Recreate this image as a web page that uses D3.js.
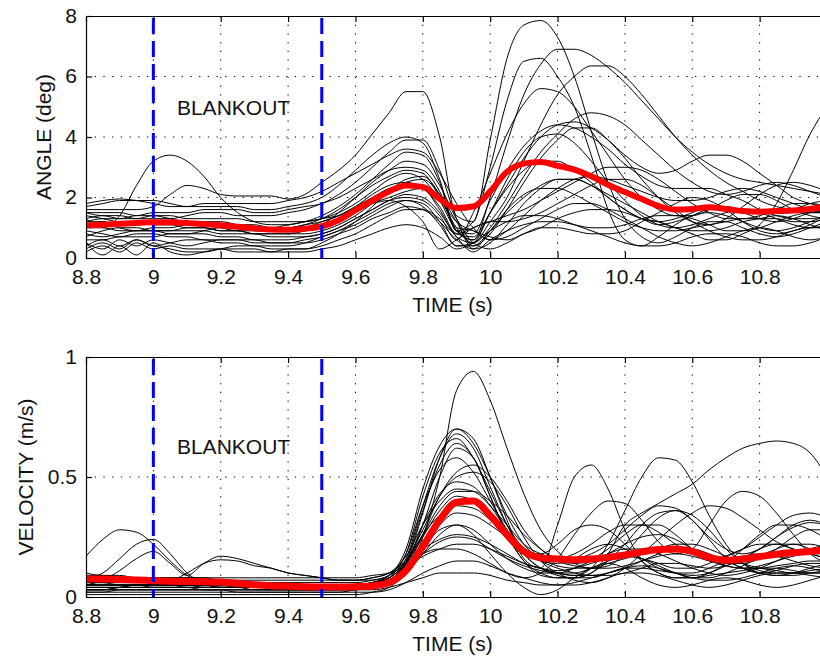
<!DOCTYPE html>
<html>
<head>
<meta charset="utf-8">
<script src="https://cdn.jsdelivr.net/npm/d3@7"></script>
<style>
  body { margin: 0; background: #fff; }
  text { font-family: "Liberation Sans", Arial, sans-serif; }
</style>
</head>
<body>
<svg id="chart" width="820" height="664"></svg>
<script>
// sample times (s)
const TIME = [8.80,8.85,8.90,8.95,9.00, 9.05,9.10,9.15,9.20,9.25, 9.30,9.35,9.40,9.45,9.50,
  9.55,9.60,9.65,9.70,9.75, 9.80,9.85,9.90,9.95,10.00, 10.05,10.10,10.15,10.20,10.25,
  10.30,10.35,10.40,10.45,10.50, 10.55,10.60,10.65,10.70,10.75, 10.80,10.85,10.90,10.95,11.00];
const X_TICKS = [8.8, 9, 9.2, 9.4, 9.6, 9.8, 10, 10.2, 10.4, 10.6, 10.8];
const ANGLE_TICKS = [0, 2, 4, 6, 8];
const VEL_TICKS = [0, 0.5, 1];
const BLANKOUT = [9.0, 9.5];

// mean angle (deg)
const angleMean = [1.08,1.1,1.13,1.16,1.18, 1.18,1.16,1.12,1.08,1.03, 0.98,0.94,0.93,0.97,1.05,
  1.25,1.58,1.9,2.2,2.4, 2.35,1.95,1.65,1.7,2.2, 2.85,3.12,3.17,3.05,2.92,
  2.7,2.42,2.18,1.95,1.72, 1.6,1.62,1.68,1.62,1.55, 1.53,1.55,1.57,1.62,1.7];

// single trials, angle (deg)
const angleTrials = [
  [1.3,1.0,1.4,2.4,3.2, 3.4,3.2,2.7,2.0,1.5, 1.2,1.1,1.1,1.2,1.3, 1.5,1.8,2.2,2.6,2.8, 2.6,1.9,0.9,0.6,1.5, 2.6,3.5,4.0,4.1,3.8, 3.2,2.5,1.9,1.4,1.1, 1.0,1.1,1.3,1.5,1.6, 1.5,1.3,1.1,1.0,1.1],
  [1.6,1.6,1.6,1.6,1.7, 2.1,2.4,2.3,2.1,2.05, 2.05,2.05,1.95,2.1,2.5, 2.9,3.4,4.1,4.8,5.5, 5.5,4.0,1.4,1.2,3.9, 6.6,7.7,7.85,7.3,6.0, 4.2,2.5,1.3,0.7,0.5, 0.7,1.0,1.2,1.2,1.0, 0.8,0.7,0.8,1.0,1.2],
  [1.5,1.4,1.4,1.3,1.3, 1.3,1.4,1.5,1.5,1.4, 1.4,1.4,1.5,1.6,1.8, 2.0,2.3,2.6,2.9,3.0, 2.9,2.2,0.9,0.6,2.0, 3.8,5.4,6.4,6.9,6.9, 6.7,6.3,5.8,5.2,4.6, 4.0,3.5,3.1,2.8,2.6, 2.5,2.4,2.3,2.2,2.1],
  [0.8,0.7,0.8,0.9,0.9, 0.8,0.8,0.9,1.0,1.0, 0.9,0.9,0.9,1.0,1.2, 1.4,1.7,2.0,2.3,2.4, 2.3,1.6,0.7,0.5,1.2, 2.0,3.2,4.4,5.4,6.0, 6.35,6.35,6.0,5.4,4.7, 4.0,3.4,2.9,2.5,2.2, 1.9,1.7,1.6,1.5,1.5],
  [1.2,1.2,1.1,1.1,1.2, 1.2,1.2,1.1,1.1,1.0, 1.0,1.0,1.1,1.2,1.4, 1.7,2.1,2.6,3.1,3.5, 3.4,2.5,0.9,1.2,3.0, 5.2,6.5,6.6,6.0,5.0, 3.4,1.6,0.6,0.4,0.7, 1.1,1.4,1.5,1.4,1.2, 1.0,0.9,1.0,1.2,1.4],
  [0.6,0.6,0.7,0.7,0.7, 0.8,0.8,0.8,0.7,0.7, 0.6,0.6,0.6,0.7,0.8, 1.0,1.3,1.6,1.9,2.0, 1.9,1.4,0.6,1.5,2.8, 4.1,5.1,5.6,5.5,5.0, 4.2,3.4,2.6,2.0,1.6, 1.4,1.4,1.6,1.9,2.1, 2.1,1.9,1.6,1.4,1.3],
  [0.3,0.5,0.3,0.6,0.4, 0.5,0.6,0.6,0.5,0.5, 0.4,0.4,0.4,0.5,0.7, 0.9,1.2,1.5,1.8,1.9, 1.7,1.1,0.4,0.5,1.5, 2.4,3.3,4.0,4.4,4.5, 4.3,3.9,3.4,3.0,2.8, 2.9,3.2,3.4,3.4,3.2, 2.8,2.4,2.0,1.8,1.7],
  [1.0,1.0,0.9,0.9,0.9, 0.9,1.0,1.0,0.9,0.9, 0.8,0.8,0.8,0.8,0.9, 1.1,1.4,1.8,2.2,2.5, 2.6,2.1,1.2,0.4,0.8, 1.6,2.5,3.3,3.9,4.3, 4.3,3.9,3.3,2.6,2.0, 1.5,1.2,1.1,1.3,1.7, 2.1,2.4,2.5,2.4,2.2],
  [0.5,0.3,0.6,0.4,0.6, 0.5,0.4,0.5,0.6,0.6, 0.6,0.5,0.5,0.5,0.6, 0.8,1.0,1.3,1.5,1.7, 1.6,1.2,0.6,0.3,0.5, 1.1,1.8,2.3,2.6,2.6, 2.4,2.1,1.8,1.5,1.2, 1.0,0.8,0.6,0.6,0.8, 1.1,1.8,2.9,4.1,5.0],
  [1.5,1.5,1.5,1.4,1.5, 1.5,1.5,1.6,1.6,1.6, 1.5,1.5,1.6,1.7,1.8, 2.1,2.5,3.0,3.5,3.9, 3.9,2.9,1.3,0.3,0.9, 1.6,2.1,2.3,2.3,2.1, 1.8,1.5,1.2,1.0,0.9, 0.9,1.0,1.1,1.2,1.3, 1.3,1.3,1.2,1.2,1.3],
  [1.7,1.8,1.9,1.9,1.9, 1.8,1.7,1.7,1.7,1.7, 1.6,1.6,1.7,1.8,2.0, 2.4,2.9,3.4,3.8,4.0, 3.8,2.6,0.9,0.8,1.9, 2.9,3.7,4.2,4.4,4.3, 4.0,3.6,3.1,2.7,2.4, 2.3,2.3,2.3,2.1,1.9, 1.6,1.4,1.3,1.3,1.4],
  [0.2,0.4,0.2,0.5,0.3, 0.4,0.3,0.3,0.3,0.2, 0.2,0.2,0.3,0.3,0.5, 0.8,1.2,1.7,2.2,2.6, 2.7,2.1,1.0,0.9,0.6, 0.7,1.0,1.3,1.6,1.8, 1.8,1.6,1.3,1.0,0.7, 0.5,0.4,0.5,0.7,0.9, 1.0,0.9,0.7,0.6,0.7],
  [1.1,1.1,1.2,1.2,1.1, 1.1,1.0,1.0,0.9,0.9, 0.8,0.8,0.8,0.9,1.1, 1.5,2.0,2.5,2.9,3.2, 3.1,2.4,1.3,0.5,0.3, 0.5,0.8,1.0,1.0,0.9, 0.8,0.8,0.9,1.2,1.5, 1.8,2.0,1.9,1.6,1.2, 0.9,0.8,0.9,1.1,1.4],
  [0.4,0.6,0.4,0.6,0.4, 0.3,0.2,0.2,0.3,0.4, 0.4,0.3,0.3,0.3,0.4, 0.6,0.8,1.1,1.4,1.6, 1.6,1.3,0.8,1.0,1.2, 1.2,1.3,1.5,1.8,2.1, 2.4,2.6,2.6,2.4,2.0, 1.6,1.2,0.9,0.7,0.6, 0.6,0.7,0.9,1.0,1.0],
  [1.3,1.4,1.3,1.3,1.4, 1.4,1.3,1.3,1.3,1.3, 1.2,1.2,1.2,1.2,1.3, 1.4,1.6,1.8,1.9,1.7, 1.2,0.3,0.6,1.0,1.2, 1.4,1.6,1.9,2.2,2.5, 2.8,3.0,3.0,2.9,2.6, 2.2,1.8,1.5,1.3,1.3, 1.4,1.6,1.8,1.8,1.7],
  [1.8,1.9,1.95,1.9,1.8, 1.7,1.7,1.8,1.8,1.8, 1.8,1.8,1.9,2.0,2.2, 2.5,2.8,3.1,3.4,3.6, 3.5,2.8,1.8,1.0,0.6, 0.9,1.4,1.9,2.3,2.6, 2.7,2.6,2.4,2.2,2.0, 1.9,1.9,2.0,2.2,2.3, 2.2,2.0,1.8,1.6,1.5],
  [0.5,0.1,0.4,0.1,0.5, 0.2,0.1,0.2,0.3,0.3, 0.3,0.2,0.2,0.2,0.3, 0.4,0.6,0.8,1.0,1.1, 1.0,0.7,0.3,0.5,0.9, 1.2,1.4,1.4,1.3,1.1, 0.9,0.7,0.5,0.4,0.4, 0.5,0.7,0.8,0.8,0.7, 0.5,0.4,0.4,0.5,0.7],
  [0.9,0.8,0.7,0.8,0.8, 0.7,0.7,0.6,0.6,0.6, 0.5,0.5,0.5,0.6,0.7, 0.9,1.1,1.4,1.7,1.9, 1.8,1.2,0.4,0.4,0.9, 1.5,2.0,2.4,2.6,2.6, 2.4,2.0,1.6,1.3,1.1, 1.2,1.4,1.6,1.6,1.5, 1.3,1.2,1.3,1.5,1.6],
  [1.2,1.3,1.3,1.4,1.4, 1.3,1.2,1.2,1.1,1.1, 1.1,1.0,1.0,1.1,1.2, 1.4,1.7,2.1,2.4,2.5, 2.3,1.7,0.8,0.7,1.5, 2.3,2.9,3.2,3.2,2.9, 2.5,2.0,1.6,1.3,1.2, 1.3,1.5,1.7,1.7,1.6, 1.5,1.5,1.6,1.8,1.9],
  [0.7,0.9,1.0,1.0,0.9, 0.9,0.9,0.9,0.8,0.8, 0.8,0.7,0.7,0.7,0.8, 1.0,1.3,1.6,1.9,2.1, 2.0,1.5,0.7,0.2,0.6, 0.9,1.1,1.2,1.2,1.1, 1.0,1.0,1.1,1.3,1.4, 1.4,1.3,1.1,0.9,0.9, 1.0,1.2,1.4,1.5,1.5],
  [1.4,1.3,1.2,1.2,1.1, 1.1,1.2,1.2,1.2,1.1, 1.0,1.0,1.0,1.1,1.3, 1.6,2.0,2.4,2.7,2.9, 2.8,2.0,1.0,0.5,1.0, 1.8,2.7,3.5,4.1,4.6, 4.8,4.7,4.4,3.9,3.4, 2.9,2.5,2.2,2.1,2.2, 2.4,2.5,2.4,2.2,2.0],
  [1.0,1.2,1.0,0.9,1.0, 1.0,1.1,1.1,1.0,0.9, 0.9,0.9,0.9,0.9,1.0, 1.2,1.5,1.8,2.0,2.2, 2.3,1.9,1.2,0.9,0.7, 0.6,0.8,1.0,1.3,1.5, 1.6,1.6,1.5,1.3,1.2, 1.0,0.9,0.9,1.0,1.2, 1.3,1.4,1.3,1.1,0.9]
];

// mean velocity (m/s)
const velMean = [0.075,0.075,0.073,0.071,0.068, 0.066,0.065,0.064,0.062,0.057, 0.051,0.047,0.045,0.043,0.042,
  0.042,0.043,0.046,0.06,0.11, 0.21,0.32,0.395,0.4,0.34, 0.26,0.19,0.163,0.158,0.155,
  0.158,0.165,0.175,0.188,0.198, 0.2,0.19,0.165,0.153,0.158, 0.168,0.178,0.185,0.19,0.196];

// single trials, velocity (m/s)
const velTrials = [
  [0.03,0.03,0.04,0.04,0.04, 0.04,0.04,0.03,0.03,0.03, 0.03,0.03,0.03,0.03,0.03, 0.03,0.03,0.04,0.05,0.1, 0.25,0.5,0.86,0.94,0.82, 0.62,0.43,0.28,0.19,0.14, 0.12,0.13,0.18,0.26,0.33, 0.36,0.34,0.28,0.2,0.14, 0.11,0.1,0.1,0.11,0.12],
  [0.05,0.05,0.05,0.05,0.05, 0.05,0.04,0.04,0.04,0.04, 0.04,0.04,0.04,0.04,0.04, 0.04,0.04,0.05,0.07,0.14, 0.35,0.58,0.7,0.66,0.5, 0.32,0.16,0.12,0.3,0.5, 0.55,0.45,0.28,0.15,0.1, 0.08,0.08,0.09,0.1,0.11, 0.12,0.12,0.11,0.1,0.1],
  [0.06,0.06,0.05,0.05,0.05, 0.05,0.05,0.05,0.04,0.04, 0.04,0.04,0.04,0.04,0.04, 0.04,0.05,0.06,0.08,0.16, 0.38,0.58,0.68,0.62,0.46, 0.3,0.18,0.12,0.1,0.09, 0.12,0.22,0.36,0.5,0.58, 0.57,0.48,0.34,0.22,0.14, 0.1,0.09,0.1,0.12,0.14],
  [0.05,0.05,0.05,0.05,0.04, 0.04,0.04,0.04,0.04,0.04, 0.04,0.04,0.03,0.03,0.03, 0.04,0.04,0.05,0.07,0.15, 0.36,0.55,0.64,0.58,0.42, 0.26,0.15,0.1,0.08,0.08, 0.1,0.18,0.3,0.35,0.39, 0.43,0.47,0.53,0.58,0.62, 0.64,0.65,0.64,0.6,0.5],
  [0.04,0.04,0.04,0.05,0.05, 0.05,0.05,0.05,0.04,0.04, 0.04,0.04,0.04,0.04,0.04, 0.04,0.04,0.05,0.07,0.13, 0.3,0.5,0.62,0.58,0.42, 0.26,0.15,0.09,0.08,0.08, 0.08,0.1,0.12,0.12,0.11, 0.1,0.09,0.1,0.13,0.16, 0.2,0.22,0.22,0.2,0.17],
  [0.02,0.02,0.03,0.03,0.03, 0.03,0.03,0.03,0.03,0.02, 0.02,0.02,0.02,0.02,0.02, 0.02,0.03,0.04,0.06,0.12, 0.26,0.42,0.52,0.55,0.5, 0.4,0.28,0.2,0.15,0.13, 0.12,0.12,0.13,0.15,0.17, 0.18,0.17,0.15,0.13,0.12, 0.12,0.13,0.14,0.15,0.15],
  [0.08,0.08,0.07,0.07,0.07, 0.07,0.06,0.06,0.06,0.06, 0.06,0.06,0.06,0.06,0.06, 0.06,0.06,0.07,0.09,0.15, 0.28,0.42,0.5,0.52,0.48, 0.38,0.25,0.15,0.1,0.07, 0.06,0.08,0.12,0.18,0.24, 0.3,0.35,0.38,0.37,0.33, 0.28,0.23,0.2,0.18,0.16],
  [0.1,0.09,0.09,0.08,0.08, 0.08,0.08,0.08,0.07,0.07, 0.07,0.07,0.07,0.07,0.07, 0.07,0.07,0.08,0.1,0.17, 0.3,0.4,0.45,0.44,0.38, 0.3,0.22,0.18,0.16,0.16, 0.18,0.22,0.28,0.34,0.38, 0.37,0.32,0.25,0.2,0.18, 0.2,0.25,0.3,0.32,0.3],
  [0.03,0.03,0.03,0.03,0.03, 0.03,0.03,0.03,0.03,0.03, 0.03,0.03,0.03,0.03,0.03, 0.03,0.03,0.04,0.05,0.1, 0.2,0.3,0.35,0.34,0.3, 0.25,0.2,0.17,0.15,0.14, 0.15,0.18,0.22,0.25,0.26, 0.24,0.2,0.16,0.13,0.12, 0.13,0.15,0.17,0.18,0.18],
  [0.17,0.24,0.28,0.27,0.22, 0.15,0.09,0.06,0.05,0.05, 0.05,0.05,0.05,0.05,0.04, 0.04,0.04,0.05,0.06,0.1, 0.18,0.26,0.3,0.28,0.22, 0.16,0.12,0.1,0.1,0.12, 0.15,0.18,0.2,0.2,0.18, 0.15,0.12,0.1,0.09,0.1, 0.12,0.15,0.18,0.2,0.22],
  [0.08,0.1,0.16,0.22,0.24, 0.18,0.1,0.06,0.05,0.05, 0.05,0.05,0.05,0.05,0.05, 0.05,0.05,0.06,0.08,0.14, 0.25,0.36,0.42,0.4,0.34, 0.26,0.2,0.17,0.16,0.18, 0.22,0.27,0.3,0.3,0.27, 0.22,0.18,0.16,0.17,0.2, 0.25,0.3,0.34,0.35,0.33],
  [0.05,0.07,0.11,0.16,0.19, 0.14,0.09,0.14,0.17,0.16, 0.14,0.12,0.1,0.09,0.08, 0.07,0.07,0.08,0.1,0.15, 0.2,0.24,0.26,0.25,0.22, 0.18,0.14,0.12,0.1,0.09, 0.09,0.1,0.12,0.15,0.18, 0.2,0.2,0.18,0.15,0.12, 0.1,0.09,0.09,0.1,0.11],
  [0.06,0.06,0.06,0.06,0.07, 0.07,0.1,0.14,0.155,0.15, 0.13,0.12,0.1,0.09,0.08, 0.07,0.07,0.07,0.09,0.15, 0.26,0.38,0.44,0.44,0.4, 0.34,0.26,0.2,0.16,0.15, 0.16,0.2,0.26,0.3,0.3, 0.26,0.2,0.16,0.14,0.14, 0.16,0.2,0.25,0.28,0.28],
  [0.02,0.02,0.02,0.02,0.02, 0.02,0.02,0.02,0.02,0.02, 0.02,0.02,0.02,0.02,0.02, 0.02,0.02,0.02,0.03,0.06, 0.1,0.13,0.15,0.15,0.13, 0.1,0.08,0.06,0.05,0.05, 0.06,0.08,0.1,0.1,0.09, 0.07,0.05,0.04,0.05,0.07, 0.09,0.1,0.1,0.09,0.08],
  [0.04,0.04,0.04,0.04,0.04, 0.04,0.04,0.04,0.04,0.04, 0.04,0.04,0.04,0.04,0.04, 0.04,0.04,0.05,0.08,0.13, 0.18,0.2,0.2,0.18,0.14, 0.1,0.08,0.1,0.16,0.26, 0.35,0.4,0.39,0.32,0.23, 0.18,0.2,0.3,0.4,0.44, 0.42,0.35,0.26,0.18,0.14],
  [0.07,0.07,0.07,0.07,0.06, 0.06,0.06,0.06,0.06,0.06, 0.05,0.05,0.05,0.05,0.05, 0.05,0.05,0.06,0.09,0.18, 0.38,0.53,0.58,0.52,0.4, 0.28,0.18,0.12,0.09,0.08, 0.1,0.15,0.22,0.3,0.35, 0.36,0.32,0.24,0.16,0.12, 0.1,0.11,0.13,0.14,0.14],
  [0.03,0.03,0.04,0.05,0.05, 0.05,0.05,0.04,0.04,0.04, 0.04,0.04,0.04,0.04,0.04, 0.04,0.04,0.05,0.07,0.12, 0.18,0.23,0.25,0.24,0.2, 0.16,0.13,0.11,0.1,0.1, 0.12,0.15,0.17,0.16,0.13, 0.1,0.08,0.08,0.1,0.13, 0.17,0.2,0.22,0.22,0.2],
  [0.05,0.05,0.05,0.05,0.05, 0.05,0.05,0.05,0.05,0.04, 0.04,0.04,0.04,0.04,0.04, 0.04,0.04,0.05,0.07,0.14, 0.3,0.43,0.48,0.46,0.38, 0.28,0.2,0.15,0.12,0.1, 0.09,0.09,0.1,0.12,0.14, 0.14,0.13,0.12,0.13,0.16, 0.2,0.25,0.29,0.31,0.3],
  [0.03,0.03,0.03,0.03,0.03, 0.03,0.03,0.03,0.03,0.03, 0.03,0.03,0.03,0.03,0.03, 0.03,0.03,0.03,0.04,0.06, 0.08,0.1,0.1,0.1,0.09, 0.07,0.06,0.05,0.05,0.06, 0.08,0.1,0.12,0.13,0.12, 0.1,0.08,0.07,0.07,0.08, 0.1,0.12,0.13,0.12,0.1],
  [0.06,0.06,0.06,0.06,0.06, 0.06,0.06,0.06,0.06,0.05, 0.05,0.05,0.05,0.05,0.05, 0.05,0.05,0.06,0.08,0.14, 0.26,0.34,0.38,0.37,0.32, 0.24,0.18,0.18,0.22,0.28, 0.3,0.28,0.22,0.15,0.1, 0.08,0.08,0.1,0.14,0.2, 0.26,0.3,0.3,0.28,0.24],
  [0.04,0.04,0.04,0.04,0.04, 0.04,0.04,0.04,0.04,0.04, 0.03,0.03,0.03,0.03,0.03, 0.03,0.04,0.05,0.08,0.18, 0.42,0.6,0.66,0.58,0.44, 0.3,0.2,0.15,0.14,0.16, 0.2,0.22,0.2,0.16,0.12, 0.1,0.1,0.12,0.15,0.17, 0.18,0.17,0.15,0.13,0.12],
  [0.09,0.09,0.08,0.08,0.08, 0.08,0.08,0.08,0.08,0.08, 0.08,0.08,0.08,0.08,0.08, 0.08,0.08,0.09,0.1,0.13, 0.17,0.2,0.22,0.22,0.2, 0.17,0.14,0.12,0.11,0.12, 0.14,0.16,0.17,0.16,0.14, 0.12,0.12,0.14,0.17,0.2, 0.22,0.22,0.2,0.18,0.16],
  [0.05,0.05,0.05,0.05,0.05, 0.05,0.05,0.05,0.05,0.05, 0.05,0.05,0.05,0.05,0.05, 0.05,0.05,0.06,0.09,0.2, 0.45,0.63,0.7,0.64,0.5, 0.34,0.22,0.16,0.13,0.12, 0.12,0.14,0.16,0.18,0.2, 0.22,0.22,0.2,0.17,0.14, 0.12,0.11,0.1,0.1,0.1],
  [0.01,0.01,0.01,0.01,0.01, 0.01,0.01,0.01,0.01,0.01, 0.01,0.01,0.01,0.01,0.01, 0.01,0.01,0.02,0.04,0.1, 0.2,0.28,0.3,0.26,0.18, 0.1,0.04,0.01,0.03,0.08, 0.12,0.14,0.12,0.08,0.05, 0.04,0.05,0.07,0.08,0.07, 0.05,0.04,0.05,0.07,0.09]
];

const svg = d3.select("#chart");
const x = d3.scaleLinear().domain([8.8, 11.0]).range([86, 827]);
const fmt = d3.format("~g");

function panel(p) {
    var y = d3.scaleLinear().domain(p.domain).range([p.bottom, p.top]);
    var g = svg.append("g");

    g.append("clipPath").attr("id", p.id)
        .append("rect")
        .attr("x", x.range()[0]).attr("y", p.top)
        .attr("width", x.range()[1] - x.range()[0]).attr("height", p.bottom - p.top);

    // dotted grid
    g.append("g").selectAll("line")
        .data(X_TICKS.slice(1))
        .join("line")
        .attr("x1", d => x(d)).attr("x2", d => x(d))
        .attr("y1", p.top).attr("y2", p.bottom)
        .attr("stroke", "#000").attr("stroke-width", 1)
        .attr("stroke-dasharray", "1.3,7.4");
    g.append("g").selectAll("line")
        .data(p.ticks.slice(1, -1))
        .join("line")
        .attr("x1", x.range()[0]).attr("x2", x.range()[1])
        .attr("y1", d => y(d)).attr("y2", d => y(d))
        .attr("stroke", "#000").attr("stroke-width", 1)
        .attr("stroke-dasharray", "1.3,7.4");

    var line = d3.line()
        .x((d, i) => x(TIME[i]))
        .y(d => y(d))
        .curve(d3.curveMonotoneX);

    var plot = g.append("g").attr("clip-path", `url(#${p.id})`);
    plot.selectAll("path.trial")
        .data(p.trials)
        .join("path")
        .attr("class", "trial")
        .attr("fill", "none")
        .attr("stroke", "#000")
        .attr("stroke-width", 1)
        .attr("d", line);

    plot.append("path")
        .datum(p.mean)
        .attr("fill", "none")
        .attr("stroke", "#ff0000")
        .attr("stroke-width", p.meanWidth)
        .attr("d", line);

    // blankout markers
    plot.selectAll("line.blank")
        .data(BLANKOUT)
        .join("line")
        .attr("class", "blank")
        .attr("x1", d => x(d)).attr("x2", d => x(d))
        .attr("y1", p.top + 2).attr("y2", p.bottom)
        .attr("stroke", "#0000ff").attr("stroke-width", 3)
        .attr("stroke-dasharray", "16,7");

    g.append("text")
        .attr("x", x(9.07)).attr("y", y(p.blankY))
        .attr("font-size", 21)
        .attr("fill", "#111")
        .text("BLANKOUT");

    // axes, ticks pointing inward
    var bottomAxis = d3.axisBottom(x).tickValues(X_TICKS).tickFormat(fmt)
        .tickSizeInner(-6).tickSizeOuter(0).tickPadding(11);
    var ax = g.append("g").attr("transform", `translate(0,${p.bottom})`).call(bottomAxis);
    var topAxis = d3.axisTop(x).tickValues(X_TICKS).tickFormat("")
        .tickSizeInner(-6).tickSizeOuter(0);
    var at = g.append("g").attr("transform", `translate(0,${p.top})`).call(topAxis);
    var leftAxis = d3.axisLeft(y).tickValues(p.ticks).tickFormat(fmt)
        .tickSizeInner(-6).tickSizeOuter(0).tickPadding(9);
    var al = g.append("g").attr("transform", `translate(${x.range()[0]},0)`).call(leftAxis);
    var rightAxis = d3.axisRight(y).tickValues(p.ticks).tickFormat("")
        .tickSizeInner(-6).tickSizeOuter(0);
    var ar = g.append("g").attr("transform", `translate(${x.range()[1]},0)`).call(rightAxis);

    [ax, at, al, ar].forEach(a => {
        a.selectAll("text").attr("font-size", 21).attr("fill", "#111")
            .style("font-family", '"Liberation Sans", Arial, sans-serif');
        a.selectAll("path, line").attr("stroke", "#000").attr("stroke-width", 1.2);
    });
    al.selectAll("text").attr("dy", "0.3em");

    g.append("text")
        .attr("x", (x.range()[0] + x.range()[1]) / 2 - 4)
        .attr("y", p.bottom + 54)
        .attr("text-anchor", "middle")
        .attr("font-size", 21)
        .attr("fill", "#111")
        .text("TIME (s)");

    g.append("text")
        .attr("transform", `translate(${p.labelX},${(p.top + p.bottom) / 2}) rotate(-90)`)
        .attr("text-anchor", "middle")
        .attr("font-size", 21)
        .attr("fill", "#111")
        .text(p.label);
}

panel({id: "clipA", top: 16, bottom: 258, domain: [0, 8], ticks: ANGLE_TICKS,
       trials: angleTrials, mean: angleMean, meanWidth: 6,
       label: "ANGLE (deg)", labelX: 51, blankY: 4.72});
panel({id: "clipV", top: 357, bottom: 597, domain: [0, 1], ticks: VEL_TICKS,
       trials: velTrials, mean: velMean, meanWidth: 7,
       label: "VELOCITY (m/s)", labelX: 33, blankY: 0.595});
</script>
</body>
</html>
